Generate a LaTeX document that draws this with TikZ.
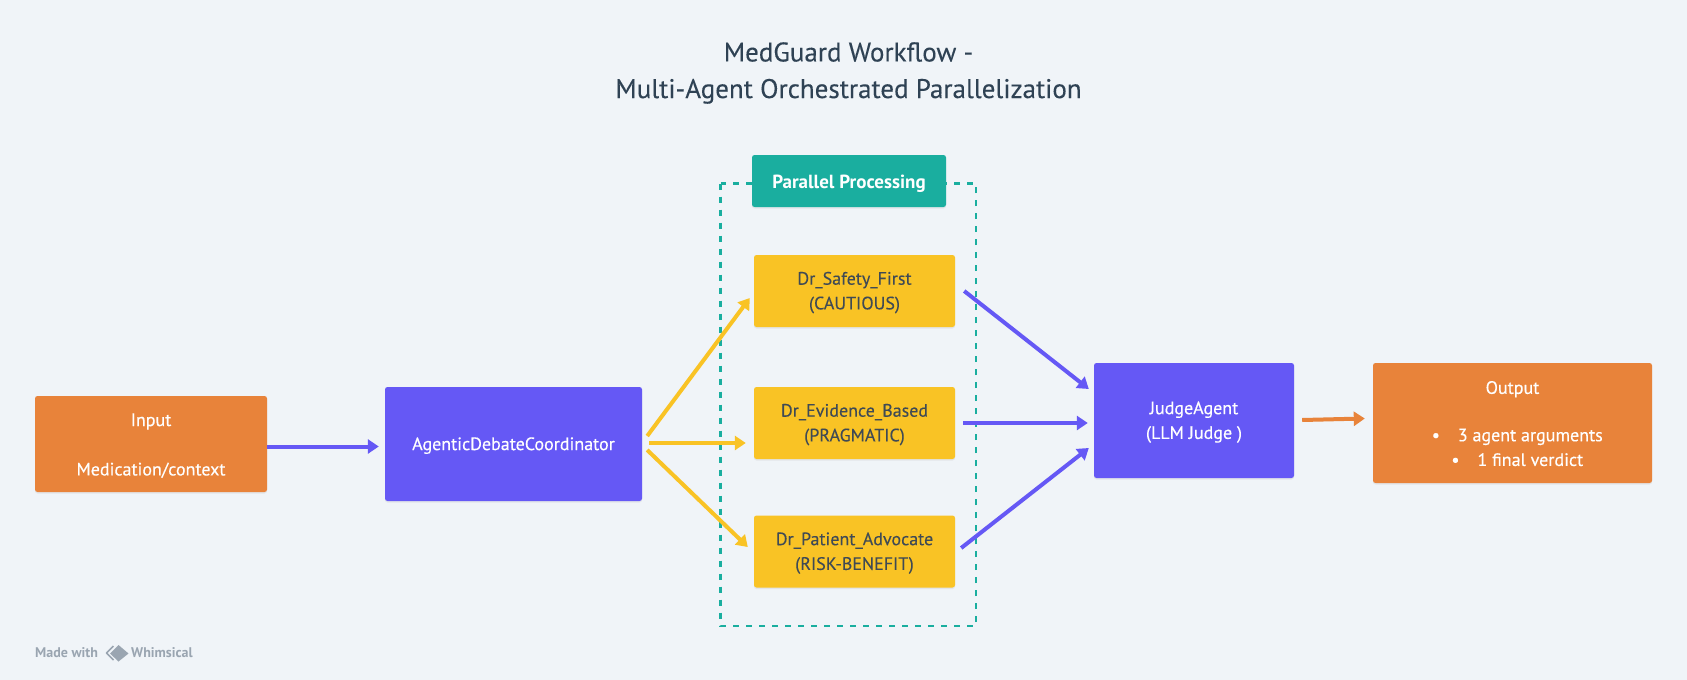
\documentclass[tikz,border=0pt]{standalone}
\usepackage{fontspec}
\setmainfont{PT Sans}
\newfontfamily\medfont{PT Sans}[FakeBold=0.35]
\newfontfamily\lightmed{PT Sans}[FakeBold=0.15]
\usetikzlibrary{arrows.meta,shadows}
\definecolor{bgc}{HTML}{F0F4F8}
\definecolor{orangec}{HTML}{E8833A}
\definecolor{purplec}{HTML}{6558F5}
\definecolor{yellowc}{HTML}{F9C325}
\definecolor{tealc}{HTML}{1AAE9F}
\definecolor{titlec}{HTML}{2F4254}
\definecolor{darktext}{HTML}{3F4A55}
\definecolor{markc}{HTML}{9AA5B1}
\newcommand{\topfix}[1]{\rule{0pt}{#1pt}}
\tikzset{
  x=1pt,y=-1pt,
  boxstyle/.style={rounded corners=2.5pt,align=center,inner sep=0pt,font=\medfont\fontsize{18}{24.7}\selectfont,
    drop shadow={shadow xshift=0pt,shadow yshift=-1.5pt,opacity=.12}},
  inputbox/.style={boxstyle,fill=orangec,text=white},
  coordbox/.style={boxstyle,fill=purplec,text=white},
  agentbox/.style={boxstyle,fill=yellowc,text=darktext,font=\lightmed\fontsize{18}{24.7}\selectfont,minimum width=201pt,minimum height=72pt},
  tealbox/.style={boxstyle,fill=tealc,text=white,font=\fontsize{19}{24.7}\selectfont\bfseries},
  link/.style={line width=4pt,-{Triangle[length=11pt,width=14pt]}},
  dashbox/.style={draw=tealc,line width=2.2pt,dash pattern=on 6pt off 7pt},
}
\begin{document}
\begin{tikzpicture}
\useasboundingbox (0,0) rectangle (1687,680);
\fill[bgc] (0,0) rectangle (1687,680);
\node[text=titlec,align=center,font=\lightmed\fontsize{27}{36.6}\selectfont] (title) at (848.5,73) {MedGuard Workflow -\\Multi-Agent Orchestrated Parallelization};
\draw[dashbox] (720.5,183.5) rectangle (976,626);
\node[tealbox,minimum width=194pt,minimum height=52pt] (par) at (849,181) {\topfix{20}Parallel Processing};
\node[inputbox,minimum width=232pt,minimum height=96pt] (inp) at (151,444) {\topfix{16}Input\\[24.7pt]Medication/context};
\node[coordbox,minimum width=257pt,minimum height=114pt] (coord) at (513.5,444) {\topfix{16}AgenticDebateCoordinator};
\node[agentbox] (a1) at (854.5,291) {\topfix{16}Dr\_Safety\_First\\(CAUTIOUS)};
\node[agentbox] (a2) at (854.5,423) {\topfix{16}Dr\_Evidence\_Based\\(PRAGMATIC)};
\node[agentbox] (a3) at (854.5,551.5) {\topfix{16}Dr\_Patient\_Advocate\\(RISK-BENEFIT)};
\node[coordbox,minimum width=200pt,minimum height=115pt] (judge) at (1194,420.5) {\topfix{16}JudgeAgent\\(LLM Judge )};
\node[inputbox,minimum width=279pt,minimum height=120pt] (out) at (1512.5,423) {\topfix{14}Output\\[22.7pt]\hspace*{9.5pt}•\hspace{1em}3 agent arguments\\\hspace*{9.5pt}•\hspace{1em}1 final verdict};
\draw[link,purplec] (inp.east|-0,446.5) -- ([xshift=-6pt]coord.west|-0,446.5);
\draw[link,yellowc] ([shift={(5pt,8pt)}]coord.east) -- ([shift={(-4pt,-7pt)}]a1.west);
\draw[link,yellowc] ([shift={(7pt,1pt)}]coord.east) -- ([shift={(-8pt,-20pt)}]a2.west);
\draw[link,yellowc] ([shift={(5pt,-6pt)}]coord.east) -- ([shift={(-6pt,4.5pt)}]a3.west);
\draw[link,purplec] ([shift={(9pt,0pt)}]a1.east) -- ([shift={(-5pt,31.5pt)}]judge.west);
\draw[link,purplec] ([xshift=8pt]a2.east) -- ([shift={(-6pt,-2.5pt)}]judge.west);
\draw[link,purplec] ([shift={(6pt,3.5pt)}]a3.east) -- ([shift={(-5pt,-27.5pt)}]judge.west);
\draw[link,orangec] ([shift={(8pt,0.5pt)}]judge.east) -- ([shift={(-8pt,4.5pt)}]out.west);
\node[anchor=west,inner sep=0pt,text=markc,font=\fontsize{14}{16}\selectfont\bfseries] (made) at (35,653) {Made with};
\node[anchor=west,inner sep=0pt,text=markc,font=\fontsize{14}{16}\selectfont\bfseries] (whim) at (131,653) {Whimsical};
\draw[markc,line width=1.6pt,line join=round] (113.5,646) -- (106.5,653) -- (113.5,660);
\fill[markc] (118.5,645) -- (128.5,653.5) -- (118.5,661.5) -- (110,653.5) -- cycle;
\end{tikzpicture}
\end{document}
